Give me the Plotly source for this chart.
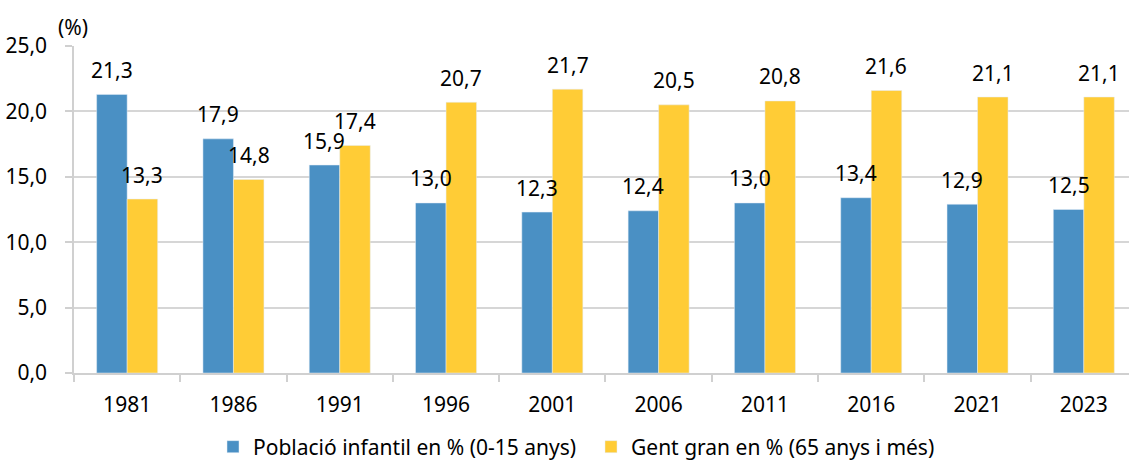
import plotly.graph_objects as go

years = ["1981", "1986", "1991", "1996", "2001", "2006", "2011", "2016", "2021", "2023"]
infantil = [21.3, 17.9, 15.9, 13.0, 12.3, 12.4, 13.0, 13.4, 12.9, 12.5]
gent_gran = [13.3, 14.8, 17.4, 20.7, 21.7, 20.5, 20.8, 21.6, 21.1, 21.1]
y_ticks = [0, 5, 10, 15, 20, 25]

name_inf = "Població infantil en % (0-15 anys)"
name_gg = "Gent gran en % (65 anys i més)"
blue = "#4A90C4"
yellow = "#FFCC36"
FONT = "Noto Sans"
FS = 21

def fmt(v):
    return f"{v:.1f}".replace(".", ",")

fig = go.Figure()
fig.add_trace(go.Bar(x=years, y=infantil, name=name_inf, marker_color=blue))
fig.add_trace(go.Bar(x=years, y=gent_gran, name=name_gg, marker_color=yellow))

W, H = 1129, 460
L, R, T, B = 74, 0, 46, 87
plot_w = W - L - R
plot_h = H - T - B
xmax = 9.425
cat_px = plot_w / (xmax + 0.5)
bargap = 0.426
half = cat_px * (1 - bargap) / 4

anns = []
for i, (a, b) in enumerate(zip(infantil, gent_gran)):
    anns.append(dict(x=i, y=a, xref="x", yref="y", text=fmt(a), xshift=-half, yshift=24.5,
                     showarrow=False, yanchor="middle", xanchor="center"))
    anns.append(dict(x=i, y=b, xref="x", yref="y", text=fmt(b), xshift=half, yshift=24.5,
                     showarrow=False, yanchor="middle", xanchor="center"))
anns.append(dict(x=(56 - L) / plot_w, y=1 + (T - 27) / plot_h, xref="paper", yref="paper",
                 text="(%)", showarrow=False, xanchor="left", yanchor="middle",
                 font=dict(size=FS)))

fig.update_layout(
    width=W, height=H,
    margin=dict(l=L, r=R, t=T, b=B, pad=0, autoexpand=False),
    barmode="group", bargap=bargap, bargroupgap=0,
    plot_bgcolor="white", paper_bgcolor="white",
    separators=",.",
    font=dict(family=FONT, size=FS, color="#000000"),
    annotations=anns,
    showlegend=True,
    legend=dict(orientation="h", x=(213 - L) / plot_w, xanchor="left",
                y=1 - (447 - T) / plot_h, yanchor="middle", font=dict(size=FS),
                tracegroupgap=0, entrywidth=333, entrywidthmode="pixels"),
    xaxis=dict(type="category", range=[-0.5, xmax], tickson="boundaries", ticks="outside",
               ticklen=7, tickcolor="#d0d0d0", tickwidth=1.5, showline=True,
               linecolor="#d0d0d0", linewidth=1.5, showgrid=False, ticklabelstandoff=12,
               automargin=False),
    yaxis=dict(range=[0, 25], tickvals=y_ticks, tickformat=".1f", ticks="outside",
               ticklen=7, tickcolor="#d0d0d0", tickwidth=1.5, showline=True,
               linecolor="#d0d0d0", linewidth=1.5, gridcolor="#d6d6d6", gridwidth=1.5,
               zeroline=False, ticklabelstandoff=14, automargin=False),
)

fig.write_html("out.html", config={"displayModeBar": False},
               post_script="document.body.style.margin='0';")
